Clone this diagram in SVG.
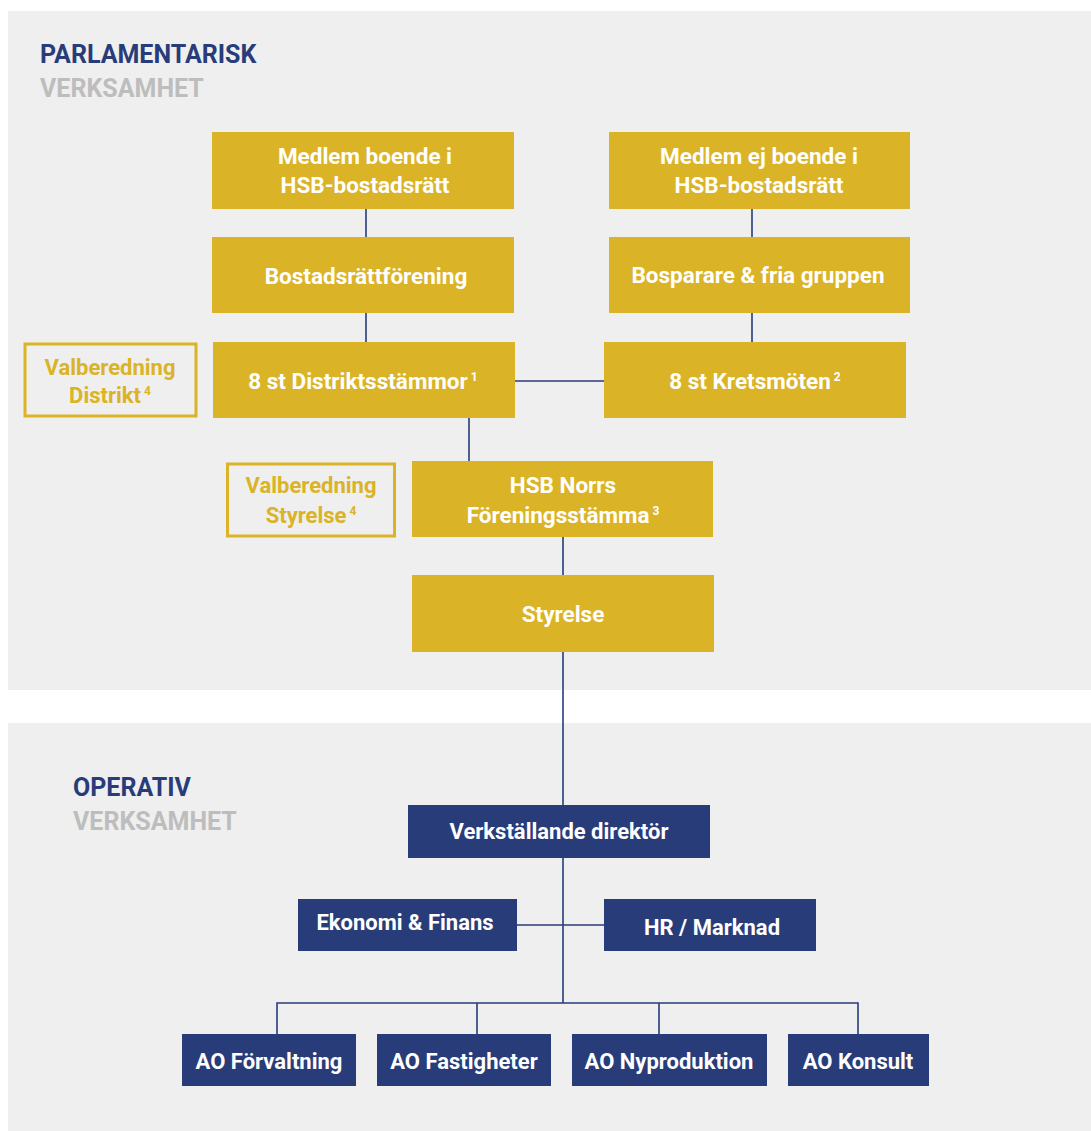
<svg xmlns="http://www.w3.org/2000/svg" width="1091" height="1131" viewBox="0 0 1091 1131">
<style>
.bg{fill:#efefef}
.g{fill:#dbb326}
.n{fill:#283c7a}
.o{fill:none;stroke:#dbb326;stroke-width:3}
.t{font-family:Roboto,"Liberation Sans",sans-serif;font-weight:bold;font-size:22px;fill:#ffffff;text-anchor:middle}
.tl{font-size:22.5px}
.tg{font-family:Roboto,"Liberation Sans",sans-serif;font-weight:bold;font-size:22px;fill:#dbb326;text-anchor:middle}
.h1{font-family:Roboto,"Liberation Sans",sans-serif;font-weight:bold;font-size:25px;fill:#283c7a}
.h2{font-family:Roboto,"Liberation Sans",sans-serif;font-weight:bold;font-size:25px;fill:#bdbdbd}
.sup{font-size:12px}
.c{stroke:#283c7a;stroke-width:1.6;fill:none}
</style>
<rect x="0" y="0" width="1091" height="1131" fill="#ffffff"/>
<rect class="bg" x="8" y="11" width="1083" height="679"/>
<rect class="bg" x="8" y="723" width="1083" height="408"/>
<text class="h1" x="40" y="63">PARLAMENTARISK</text>
<text class="h2" x="40" y="97">VERKSAMHET</text>
<text class="h1" x="73" y="796">OPERATIV</text>
<text class="h2" x="73" y="830">VERKSAMHET</text>
<g id="connectors">
<path class="c" d="M366 209V237M366 313V342M752 209V237M752 313V342M515 381H604M469 418V461M563 537V575M563 652V805M563 858V1003M517 925H604M277 1034V1003H858V1034M477 1003V1034M659 1003V1034"/>
</g>
<g id="medlem-boende"><rect class="g" x="212" y="132" width="302" height="77"/><text class="t tl" x="365" y="164">Medlem boende i</text><text class="t tl" x="365" y="193">HSB-bostadsrätt</text></g>
<g id="medlem-ej-boende"><rect class="g" x="609" y="132" width="301" height="77"/><text class="t tl" x="759" y="164">Medlem ej boende i</text><text class="t tl" x="759" y="193">HSB-bostadsrätt</text></g>
<g id="brf"><rect class="g" x="212" y="237" width="302" height="76"/><text class="t tl" x="366" y="284">Bostadsrättförening</text></g>
<g id="bosparare"><rect class="g" x="609" y="237" width="301" height="76"/><text class="t tl" x="758" y="283">Bosparare &amp; fria gruppen</text></g>
<g id="valberedning-distrikt"><rect class="o" x="25" y="344" width="171" height="72"/><text class="tg" x="110" y="375">Valberedning</text><text class="tg" x="110" y="403">Distrikt<tspan class="sup" dx="3" dy="-8">4</tspan></text></g>
<g id="distriktsstammor"><rect class="g" x="213" y="342" width="302" height="76"/><text class="t tl" x="363" y="389">8 st Distriktsstämmor<tspan class="sup" dx="3" dy="-8">1</tspan></text></g>
<g id="kretsmoten"><rect class="g" x="604" y="342" width="302" height="76"/><text class="t tl" x="755" y="389">8 st Kretsmöten<tspan class="sup" dx="3" dy="-8">2</tspan></text></g>
<g id="valberedning-styrelse"><rect class="o" x="227.5" y="464" width="167" height="72"/><text class="tg" x="311" y="493">Valberedning</text><text class="tg" x="311" y="523">Styrelse<tspan class="sup" dx="3" dy="-8">4</tspan></text></g>
<g id="foreningsstamma"><rect class="g" x="412" y="461" width="301" height="76"/><text class="t tl" x="563" y="493">HSB Norrs</text><text class="t tl" x="563" y="523">Föreningsstämma<tspan class="sup" dx="3" dy="-8">3</tspan></text></g>
<g id="styrelse"><rect class="g" x="412" y="575" width="302" height="77"/><text class="t tl" x="563" y="622">Styrelse</text></g>
<g id="vd"><rect class="n" x="408" y="805" width="302" height="53"/><text class="t" x="559" y="839">Verkställande direktör</text></g>
<g id="ekonomi"><rect class="n" x="298" y="899" width="219" height="52"/><text class="t" x="405" y="930">Ekonomi &amp; Finans</text></g>
<g id="hr"><rect class="n" x="604" y="899" width="212" height="52"/><text class="t" x="712" y="935">HR / Marknad</text></g>
<g id="ao-forvaltning"><rect class="n" x="182" y="1034" width="174" height="52"/><text class="t" x="269" y="1069">AO Förvaltning</text></g>
<g id="ao-fastigheter"><rect class="n" x="377" y="1034" width="174" height="52"/><text class="t" x="464" y="1069">AO Fastigheter</text></g>
<g id="ao-nyproduktion"><rect class="n" x="572" y="1034" width="195" height="52"/><text class="t" x="669" y="1069">AO Nyproduktion</text></g>
<g id="ao-konsult"><rect class="n" x="788" y="1034" width="141" height="52"/><text class="t" x="858" y="1069">AO Konsult</text></g>
</svg>
